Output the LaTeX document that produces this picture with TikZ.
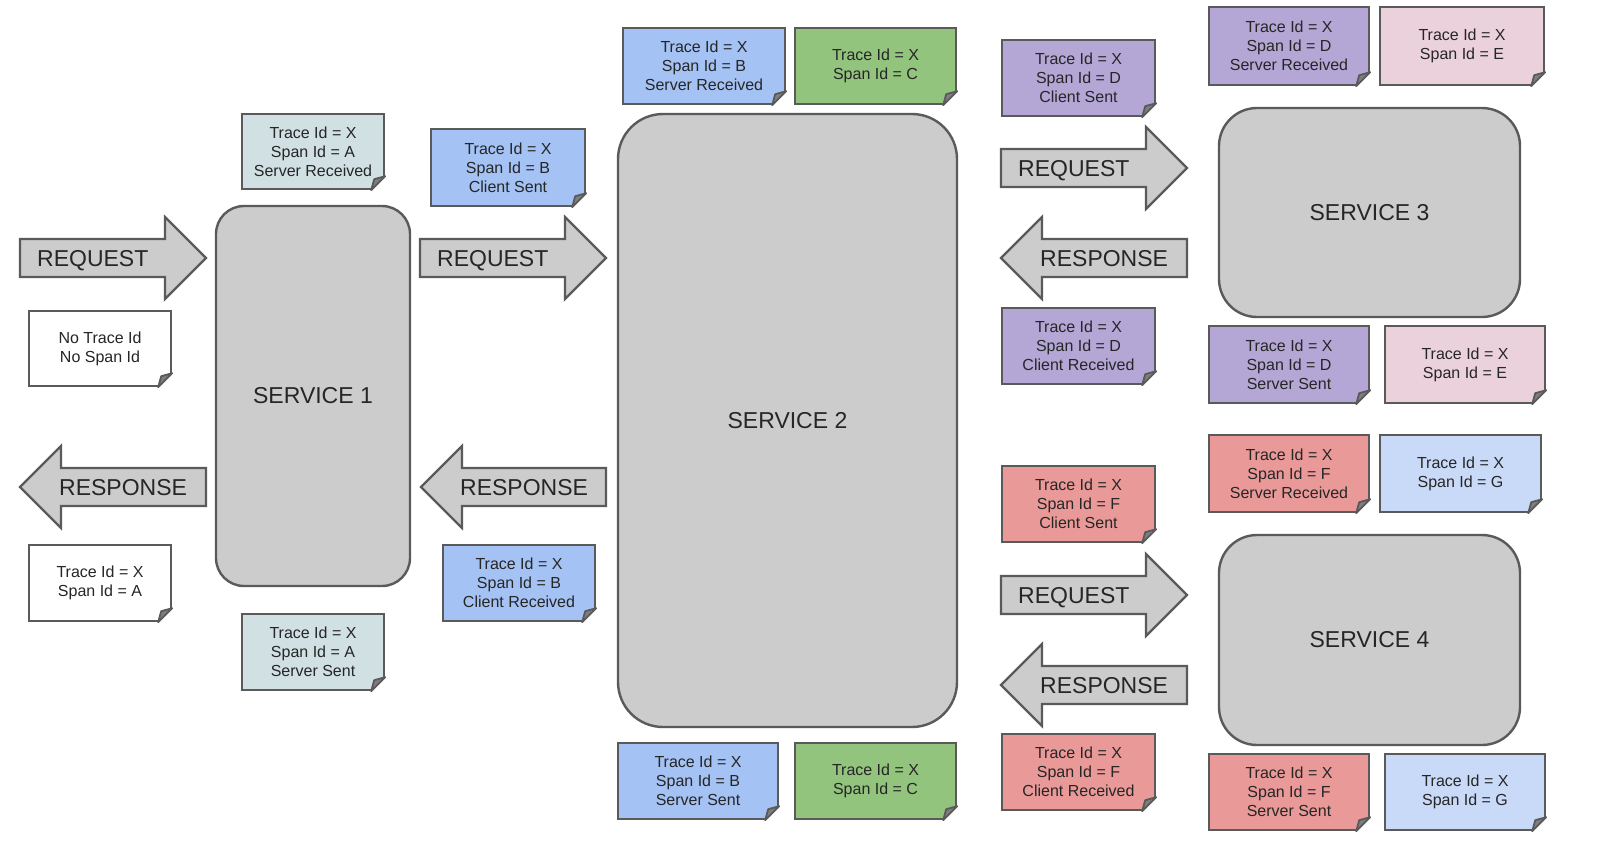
\documentclass[tikz,border=0pt]{standalone}
\usepackage{fontspec}
\setmainfont{Liberation Sans}
\definecolor{bd}{HTML}{5A5A5A}
\definecolor{txt}{HTML}{262626}
\definecolor{gfill}{HTML}{CCCCCC}
\definecolor{cTeal}{HTML}{D0E0E3}
\definecolor{cBlue}{HTML}{A4C2F4}
\definecolor{cGreen}{HTML}{93C47D}
\definecolor{cPurple}{HTML}{B4A7D6}
\definecolor{cPink}{HTML}{EAD1DC}
\definecolor{cRed}{HTML}{EA9999}
\definecolor{cLBlue}{HTML}{C9DAF8}
\definecolor{foldc}{HTML}{7E7E7E}
\tikzset{
  note/.style={draw=bd, line width=2.4pt, rectangle, inner sep=0pt, align=center,
    font=\fontsize{16}{19}\selectfont, text=txt},
  service/.style={draw=bd, line width=2.4pt, fill=gfill, rectangle, inner sep=0pt,
    font=\fontsize{23}{27}\selectfont, text=txt},
  arrowshape/.style={draw=bd, line width=2.2pt, fill=gfill, line join=miter},
  arrowtext/.style={inner sep=0pt, font=\fontsize{23}{27}\selectfont, text=txt},
}
% name, x1, y1, x2, y2, colour, text
\newcommand\NoteBox[7]{%
  \node[note, fill=#6, minimum width={#4-#2}, minimum height={#5-#3}] (#1) at ({(#2+#4)/2},{(#3+#5)/2}) {#7};
  \fill[white] ([xshift=-16pt,yshift=-2pt]#1.south east) -- ([xshift=2pt,yshift=16pt]#1.south east) -- ([xshift=3pt,yshift=-3pt]#1.south east) -- cycle;
  \filldraw[fill=foldc, draw=bd, line width=1.8pt, line join=round]
    ([xshift=-14pt]#1.south east) -- ([yshift=14pt]#1.south east) -- ([xshift=-11pt,yshift=11pt]#1.south east) -- cycle;
}
% name, x0, tip, y, text
\newcommand\RightBigArrow[5]{%
  \draw[arrowshape] (#2,#4-19) -- (#3-41,#4-19) -- (#3-41,#4-41) -- (#3,#4) -- (#3-41,#4+41) -- (#3-41,#4+19) -- (#2,#4+19) -- cycle;
  \node[arrowtext, anchor=base west] (#1) at (#2+17,#4+8.5) {#5};
}
% name, tip, x1, y, text
\newcommand\LeftBigArrow[5]{%
  \draw[arrowshape] (#3,#4-19) -- (#2+41,#4-19) -- (#2+41,#4-41) -- (#2,#4) -- (#2+41,#4+41) -- (#2+41,#4+19) -- (#3,#4+19) -- cycle;
  \node[arrowtext, anchor=base west] (#1) at (#2+39,#4+8.5) {#5};
}
\begin{document}
\begin{tikzpicture}[x=1pt,y=-1pt]
\useasboundingbox[fill=white] (0,0) rectangle (1601,855);

% services
\node[service, rounded corners=28pt, minimum width=194, minimum height=380] (s1) at (313,396) {SERVICE 1};
\node[service, rounded corners=45pt, minimum width=339, minimum height=613] (s2) at (787.5,420.5) {SERVICE 2};
\node[service, rounded corners=38pt, minimum width=301, minimum height=209] (s3) at (1369.5,212.5) {SERVICE 3};
\node[service, rounded corners=38pt, minimum width=301, minimum height=210] (s4) at (1369.5,640) {SERVICE 4};

% arrows
\RightBigArrow{req1}{20}{206}{258}{REQUEST}
\RightBigArrow{req2}{420}{606}{258}{REQUEST}
\LeftBigArrow{resp1}{20}{206}{487}{RESPONSE}
\LeftBigArrow{resp2}{421}{606}{487}{RESPONSE}
\RightBigArrow{req3}{1001}{1187}{168}{REQUEST}
\LeftBigArrow{resp3}{1001}{1187}{258}{RESPONSE}
\RightBigArrow{req4}{1001}{1187}{595}{REQUEST}
\LeftBigArrow{resp4}{1001}{1187}{685}{RESPONSE}

% notes
\NoteBox{srA}{242}{114}{384}{189}{cTeal}{Trace Id = X\\Span Id = A\\Server Received}
\NoteBox{csB}{431}{129}{585}{206}{cBlue}{Trace Id = X\\Span Id = B\\Client Sent}
\NoteBox{none}{29}{311}{171}{386}{white}{No Trace Id\\No Span Id}
\NoteBox{retA}{29}{545}{171}{621}{white}{Trace Id = X\\Span Id = A}
\NoteBox{crB}{443}{545}{595}{621}{cBlue}{Trace Id = X\\Span Id = B\\Client Received}
\NoteBox{ssA}{242}{614}{384}{690}{cTeal}{Trace Id = X\\Span Id = A\\Server Sent}
\NoteBox{srB}{623}{28}{785}{104}{cBlue}{Trace Id = X\\Span Id = B\\Server Received}
\NoteBox{cTop}{795}{28}{956}{104}{cGreen}{Trace Id = X\\Span Id = C}
\NoteBox{csD}{1002}{40}{1155}{116}{cPurple}{Trace Id = X\\Span Id = D\\Client Sent}
\NoteBox{srD}{1209}{7}{1369}{85}{cPurple}{Trace Id = X\\Span Id = D\\Server Received}
\NoteBox{eTop}{1380}{7}{1544}{85}{cPink}{Trace Id = X\\Span Id = E}
\NoteBox{crD}{1002}{308}{1155}{384}{cPurple}{Trace Id = X\\Span Id = D\\Client Received}
\NoteBox{ssD}{1209}{326}{1369}{403}{cPurple}{Trace Id = X\\Span Id = D\\Server Sent}
\NoteBox{eBot}{1385}{326}{1545}{403}{cPink}{Trace Id = X\\Span Id = E}
\NoteBox{srF}{1209}{435}{1369}{512}{cRed}{Trace Id = X\\Span Id = F\\Server Received}
\NoteBox{gTop}{1380}{435}{1541}{512}{cLBlue}{Trace Id = X\\Span Id = G}
\NoteBox{csF}{1002}{466}{1155}{542}{cRed}{Trace Id = X\\Span Id = F\\Client Sent}
\NoteBox{crF}{1002}{734}{1155}{810}{cRed}{Trace Id = X\\Span Id = F\\Client Received}
\NoteBox{ssF}{1209}{754}{1369}{830}{cRed}{Trace Id = X\\Span Id = F\\Server Sent}
\NoteBox{gBot}{1385}{754}{1545}{830}{cLBlue}{Trace Id = X\\Span Id = G}
\NoteBox{ssB}{618}{743}{778}{819}{cBlue}{Trace Id = X\\Span Id = B\\Server Sent}
\NoteBox{cBot}{795}{743}{956}{819}{cGreen}{Trace Id = X\\Span Id = C}
\end{tikzpicture}
\end{document}
